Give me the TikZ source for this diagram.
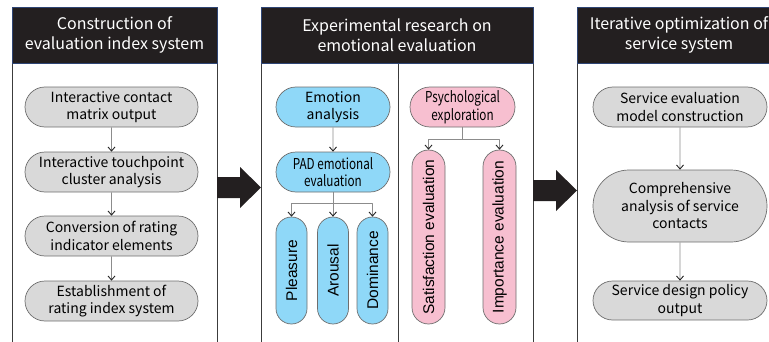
\documentclass[tikz,border=0pt]{standalone}
\usepackage{fontspec}
\setmainfont{Noto Sans CJK KR}
\newfontfamily\condfont[FakeStretch=0.78]{Noto Sans CJK KR}
\newfontfamily\armfont{Liberation Sans}
\usetikzlibrary{shapes.misc,arrows.meta}
\definecolor{headbg}{HTML}{231F20}
\definecolor{headline}{HTML}{2E4575}
\definecolor{panelline}{HTML}{3C3C3C}
\definecolor{pillline}{HTML}{6E6E6E}
\definecolor{pillgrey}{HTML}{D9D9D9}
\definecolor{pillblue}{HTML}{8FD8F8}
\definecolor{pillpink}{HTML}{F7BFD0}
\definecolor{connline}{HTML}{8C8C8C}

\begin{document}
\begin{tikzpicture}[x=1pt,y=1pt, line join=round,
	pill/.style={rounded rectangle, draw=pillline, line width=0.7pt, align=center, inner sep=0pt, font=\fontsize{14}{17.5}\selectfont},
	greypill/.style={pill, fill=pillgrey, minimum width=173pt, minimum height=40pt},
	bluepill/.style={pill, fill=pillblue, minimum width=114pt, minimum height=40pt},
	pinkpill/.style={pill, fill=pillpink},
	narrow/.style={font=\condfont\fontsize{15}{17.5}\selectfont},
	upright/.style={pill, rotate=90, font=\armfont\fontsize{15.5}{18}\selectfont},
	conn/.style={draw=connline, line width=0.6pt, -{Straight Barb[length=4pt,width=7pt,color=black!85,line width=0.9pt]}},
	panel/.style={draw=panelline, line width=0.8pt},
	head/.style={fill=headbg, draw=headline, line width=0.8pt},
	headtext/.style={text=white, align=center, font=\fontsize{16}{20}\selectfont},
	bigarrow/.style={fill=headbg}]
	\def\ytop{334} \def\yhead{278} \def\ybot{-5}
	\useasboundingbox (0,0) rectangle (769,341);
	\clip (0,0) rectangle (769,341);
	% panels
	\draw[panel] (12,\ybot) rectangle (217,\ytop);
	\draw[panel] (261,\ybot) rectangle (533,\ytop);
	\draw[panel] (398,\ybot) -- (398,\yhead);
	\draw[panel] (577,\ybot) rectangle (781,\ytop);
	\draw[head] (12,\yhead) rectangle (217,\ytop);
	\draw[head] (261,\yhead) rectangle (533,\ytop);
	\draw[head] (577,\yhead) rectangle (781,\ytop);
	\node[headtext] (h1) at (114.5,306) {Construction of\\evaluation index system};
	\node[headtext] (h2) at (397,306) {Experimental research on\\emotional evaluation};
	\node[headtext] (h3) at (679,306) {Iterative optimization of\\service system};
	% arrows between panels
	\coordinate (a1) at (217,153.5);
	\coordinate (a2) at (533,150.5);
	\foreach \a in {a1,a2}
		\fill[bigarrow] (\a) ++(0,10.5) -- ++(23,0) -- ++(0,10) -- ++(21,-20.5) -- ++(-21,-20.5) -- ++(0,10) -- ++(-23,0) -- cycle;
	% first panel
	\node[greypill] (contact) at (111.5,234) {Interactive contact\\matrix output};
	\node[greypill] (cluster) at (111.5,169) {Interactive touchpoint\\cluster analysis};
	\node[greypill] (convert) at (111.5,105) {Conversion of rating\\indicator elements};
	\node[greypill] (establish) at (111.5,40) {Establishment of\\rating index system};
	\draw[conn] (contact) -- (cluster);
	\draw[conn] (cluster) -- (convert);
	\draw[conn] (convert) -- (establish);
	% second panel, left
	\node[bluepill] (emotion) at (333,234) {Emotion\\analysis};
	\node[bluepill, narrow] (pad) at (333,169) {PAD emotional\\evaluation};
	\node[upright, fill=pillblue, minimum width=107pt, minimum height=31pt] (pleasure) at (291.5,70.5) {Pleasure};
	\node[upright, fill=pillblue, minimum width=107pt, minimum height=31pt] (arousal) at (333,70.5) {Arousal};
	\node[upright, fill=pillblue, minimum width=107pt, minimum height=31pt] (dominance) at (372.5,70.5) {Dominance};
	\draw[conn] (emotion) -- (pad);
	\draw[conn] (pad.south) -- ++(0,-11) -| (pleasure.east);
	\draw[conn] (pad.south) -- (arousal.east);
	\draw[conn] (pad.south) -- ++(0,-11) -| (dominance.east);
	% second panel, right
	\node[pinkpill, narrow, minimum width=105pt, minimum height=40pt] (psych) at (462.5,234) {Psychological\\exploration};
	\node[upright, fill=pillpink, minimum width=174pt, minimum height=33pt] (satis) at (428.5,104) {Satisfaction evaluation};
	\node[upright, fill=pillpink, minimum width=174pt, minimum height=33pt] (import) at (499.5,104) {Importance evaluation};
	\draw[conn] (psych.south) -- ++(0,-12) -| (satis.east);
	\draw[conn] (psych.south) -- ++(0,-12) -| (import.east);
	% third panel
	\node[greypill, minimum width=174pt] (model) at (680,234) {Service evaluation\\model construction};
	\node[greypill, minimum width=174pt, minimum height=72pt] (compre) at (680,135) {Comprehensive\\analysis of service\\contacts};
	\node[greypill, minimum width=174pt, minimum height=39pt] (policy) at (680,40.5) {Service design policy\\output};
	\draw[conn] (model) -- (compre);
	\draw[conn] (compre) -- (policy);
\end{tikzpicture}
\end{document}
